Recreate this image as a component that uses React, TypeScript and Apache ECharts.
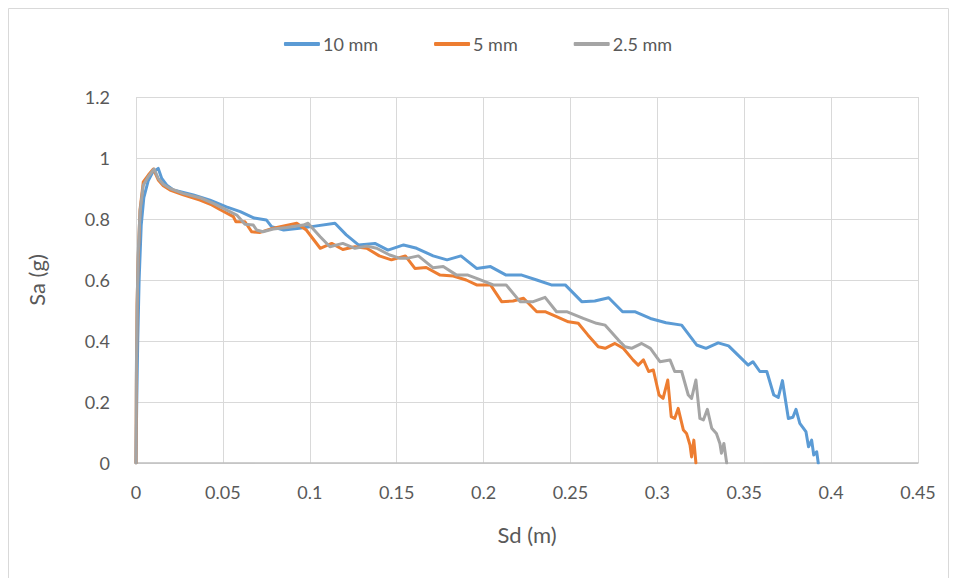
import React, { useEffect, useRef } from "react";
import * as echarts from "echarts";

const seriesNames = ["10 mm", "5 mm", "2.5 mm"];

const blueX = [0, 0.0004, 0.001, 0.0018, 0.003, 0.0045, 0.007, 0.0095, 0.0128, 0.0148, 0.0177, 0.0215, 0.033, 0.0426, 0.052, 0.06, 0.068, 0.075, 0.078, 0.085, 0.094, 0.101, 0.1145, 0.121, 0.128, 0.1375, 0.145, 0.154, 0.1615, 0.171, 0.179, 0.187, 0.196, 0.204, 0.213, 0.222, 0.2306, 0.239, 0.247, 0.2565, 0.264, 0.272, 0.28, 0.287, 0.296, 0.305, 0.314, 0.3226, 0.328, 0.335, 0.341, 0.3523, 0.355, 0.359, 0.363, 0.367, 0.3696, 0.372, 0.3754, 0.378, 0.3798, 0.382, 0.3855, 0.387, 0.3888, 0.39, 0.3917, 0.3926];
const blueY = [0, 0.19, 0.4, 0.6, 0.78, 0.87, 0.925, 0.952, 0.966, 0.933, 0.911, 0.895, 0.879, 0.862, 0.84, 0.824, 0.803, 0.797, 0.775, 0.764, 0.77, 0.775, 0.786, 0.748, 0.715, 0.72, 0.698, 0.715, 0.704, 0.679, 0.666, 0.679, 0.638, 0.644, 0.616, 0.616, 0.6, 0.584, 0.584, 0.529, 0.531, 0.542, 0.496, 0.496, 0.474, 0.46, 0.452, 0.387, 0.376, 0.394, 0.384, 0.321, 0.332, 0.3, 0.3, 0.223, 0.215, 0.27, 0.146, 0.15, 0.176, 0.13, 0.103, 0.053, 0.075, 0.026, 0.037, 0];

const orangeX = [0, 0.0002, 0.0006, 0.0012, 0.0023, 0.0042, 0.0071, 0.01, 0.0128, 0.0157, 0.0196, 0.0272, 0.0368, 0.0436, 0.048, 0.056, 0.0575, 0.0627, 0.0666, 0.0714, 0.079, 0.0925, 0.098, 0.106, 0.1126, 0.119, 0.126, 0.1328, 0.14, 0.147, 0.155, 0.1605, 0.167, 0.175, 0.1826, 0.19, 0.196, 0.204, 0.2104, 0.217, 0.223, 0.2306, 0.2354, 0.242, 0.2488, 0.2545, 0.26, 0.266, 0.27, 0.2756, 0.2804, 0.286, 0.289, 0.292, 0.295, 0.2977, 0.301, 0.3033, 0.306, 0.308, 0.31, 0.312, 0.315, 0.3168, 0.3188, 0.3197, 0.321, 0.3222];
const orangeY = [0, 0.25, 0.52, 0.66, 0.83, 0.922, 0.944, 0.964, 0.928, 0.909, 0.895, 0.879, 0.862, 0.846, 0.832, 0.808, 0.791, 0.791, 0.758, 0.756, 0.77, 0.786, 0.764, 0.704, 0.72, 0.7, 0.709, 0.704, 0.679, 0.666, 0.679, 0.638, 0.641, 0.616, 0.613, 0.6, 0.584, 0.584, 0.529, 0.531, 0.54, 0.496, 0.496, 0.48, 0.463, 0.458, 0.42, 0.381, 0.376, 0.392, 0.376, 0.338, 0.321, 0.338, 0.3, 0.305, 0.223, 0.212, 0.272, 0.152, 0.146, 0.179, 0.108, 0.097, 0.059, 0.02, 0.075, 0];

const grayX = [0, 0.0002, 0.0006, 0.0012, 0.0023, 0.0042, 0.0071, 0.0104, 0.0128, 0.0157, 0.0196, 0.027, 0.0378, 0.0445, 0.052, 0.058, 0.0627, 0.0675, 0.0694, 0.073, 0.079, 0.0867, 0.0963, 0.099, 0.106, 0.1116, 0.119, 0.126, 0.1328, 0.1385, 0.146, 0.152, 0.1558, 0.1625, 0.171, 0.1768, 0.1845, 0.191, 0.196, 0.2056, 0.213, 0.221, 0.2286, 0.2354, 0.242, 0.2478, 0.2574, 0.265, 0.27, 0.2776, 0.2814, 0.2852, 0.291, 0.296, 0.3015, 0.3073, 0.31, 0.314, 0.3178, 0.3197, 0.3222, 0.3245, 0.3265, 0.3288, 0.3313, 0.334, 0.336, 0.3369, 0.3383, 0.3399];
const grayY = [0, 0.3, 0.5, 0.68, 0.824, 0.911, 0.939, 0.964, 0.933, 0.914, 0.9, 0.884, 0.868, 0.851, 0.83, 0.813, 0.783, 0.78, 0.764, 0.758, 0.767, 0.772, 0.78, 0.786, 0.742, 0.709, 0.72, 0.704, 0.711, 0.704, 0.682, 0.671, 0.671, 0.679, 0.64, 0.644, 0.616, 0.616, 0.605, 0.584, 0.584, 0.529, 0.529, 0.543, 0.496, 0.496, 0.474, 0.458, 0.452, 0.403, 0.381, 0.376, 0.392, 0.376, 0.332, 0.338, 0.3, 0.3, 0.223, 0.212, 0.272, 0.146, 0.141, 0.176, 0.114, 0.097, 0.064, 0.032, 0.064, 0];

const colors = ["#5B9BD5", "#ED7D31", "#A5A5A5"];
const xTitle = "Sd (m)";
const yTitle = "Sa (g)";

const zip = (xs: number[], ys: number[]) => xs.map((x, i) => [x, ys[i]]);
const fmt = (v: number) => String(Number(v.toFixed(2)));

export default function App() {
  const ref = useRef<HTMLDivElement>(null);
  useEffect(() => {
    if (!ref.current) return;
    const chart = echarts.init(ref.current, undefined, { renderer: "svg" });
    const font = "Lato, 'Open Sans', sans-serif";
    const data = [zip(blueX, blueY), zip(orangeX, orangeY), zip(grayX, grayY)];
    chart.setOption({
      animation: false,
      backgroundColor: "#ffffff",
      textStyle: { fontFamily: font },
      graphic: [
        {
          type: "rect",
          shape: { x: 8.5, y: 8.5, width: 940, height: 600 },
          style: { fill: "none", stroke: "#D9D9D9", lineWidth: 1 },
          silent: true,
        },
      ],
      legend: {
        data: seriesNames,
        left: "center",
        top: 30,
        icon: "roundRect",
        itemWidth: 36,
        itemHeight: 4,
        itemGap: 56,
        textStyle: { color: "#595959", fontSize: 18, fontFamily: font, padding: [0, 0, 0, -2] },
      },
      grid: { left: 136, top: 97, right: 38, bottom: 115, containLabel: false },
      xAxis: {
        type: "value",
        min: 0,
        max: 0.45,
        interval: 0.05,
        name: xTitle,
        nameLocation: "middle",
        nameGap: 60,
        nameTextStyle: { color: "#595959", fontSize: 22, fontFamily: font },
        axisLine: { show: true, lineStyle: { color: "#BFBFBF", width: 1.5 } },
        axisTick: { show: false },
        axisLabel: { color: "#595959", fontSize: 18, margin: 20, formatter: fmt, fontFamily: font },
        splitLine: { show: true, lineStyle: { color: "#D9D9D9", width: 1 } },
      },
      yAxis: {
        type: "value",
        min: 0,
        max: 1.2,
        interval: 0.2,
        name: yTitle,
        nameLocation: "middle",
        nameGap: 89,
        nameRotate: 90,
        nameTextStyle: { color: "#595959", fontSize: 22, fontFamily: font },
        axisLine: { show: false },
        axisTick: { show: false },
        axisLabel: { color: "#595959", fontSize: 18, margin: 26, formatter: fmt, fontFamily: font },
        splitLine: { show: true, lineStyle: { color: "#D9D9D9", width: 1 } },
      },
      series: seriesNames.map((name, i) => ({
        name,
        type: "line",
        data: data[i],
        symbol: "none",
        smooth: false,
        clip: true,
        lineStyle: { color: colors[i], width: 3, join: "round", cap: "round" },
        itemStyle: { color: colors[i] },
      })),
    });
    return () => chart.dispose();
  }, []);
  return (
    <div
      ref={ref}
      style={{ position: "fixed", left: 0, top: 0, width: 956, height: 578 }}
    />
  );
}
